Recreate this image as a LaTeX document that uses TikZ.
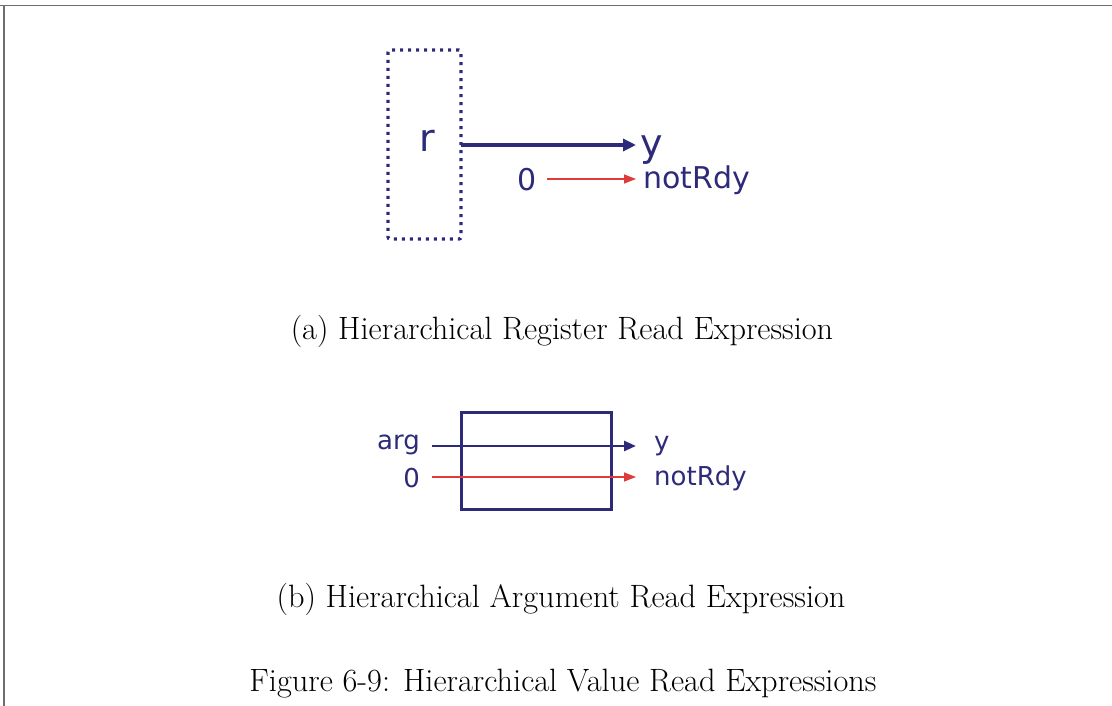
\documentclass[tikz,border=0pt]{standalone}
\usepackage{fontspec}
\newfontfamily\diagfont{DejaVu Sans}
\usetikzlibrary{arrows.meta}
\definecolor{navy}{RGB}{46,42,122}
\definecolor{sigred}{RGB}{222,60,60}
\definecolor{framegray}{RGB}{110,110,110}
\tikzset{
  lbl/.style={font=\diagfont\fontsize{26}{30}\selectfont, text=navy, inner sep=0pt},
  lblbig/.style={font=\diagfont\fontsize{30}{34}\selectfont, text=navy, inner sep=0pt},
  lblhuge/.style={font=\diagfont\fontsize{38}{42}\selectfont, text=navy, inner sep=0pt},
  captext/.style={font=\fontsize{32.3}{38}\selectfont, inner sep=0pt},
  bluearrow/.style={draw=navy, line width=3.6pt, -{Triangle[length=13pt,width=12pt]}},
  bluearrowthin/.style={draw=navy, line width=2.6pt, -{Triangle[length=12pt,width=10pt]}},
  redarrow/.style={draw=sigred, line width=1.5pt, -{Triangle[length=12pt,width=9pt]}},
  dotbox/.style={draw=navy, line width=3.2pt, dash pattern=on 3pt off 5pt},
  solidbox/.style={draw=navy, line width=3pt},
}
\begin{document}
\begin{tikzpicture}[x=1pt,y=-1pt]
\useasboundingbox (0,0) rectangle (1112,706);
% frame
\draw[framegray, line width=1.5pt] (0,5.5) -- (1112,5.5);
\draw[framegray, line width=1.5pt] (4,5.5) -- (4,706);

% (a)
\draw[dotbox, rounded corners=2pt] (388,50) rectangle (461,239);
\node[lblhuge] (r) at (427,141) {r};
\coordinate (rout) at (461,145);
\coordinate (yain) at (636,145);
\node[lblhuge, anchor=west] (ya) at (640,150) {y};
\node[lblbig, anchor=west] (na) at (643,180) {notRdy};
\node[lblbig] (za) at (527,180) {0};
\coordinate (zas) at (547,179);
\coordinate (nain) at (636,179);
\draw[bluearrow] (rout) -- (yain);
\draw[redarrow] (zas) -- (nain);
\node[captext] (capa) at (562,331) {(a) Hierarchical Register Read Expression};

% (b)
\draw[solidbox] (461,412) rectangle (611,509);
\node[lbl, anchor=east] (arg) at (420,445) {arg};
\node[lbl, anchor=east] (zb) at (420,478) {0};
\node[lbl, anchor=west] (yb) at (654,446) {y};
\node[lbl, anchor=west] (nb) at (654,478) {notRdy};
\coordinate (args) at (432,446);
\coordinate (arge) at (636,446);
\coordinate (zbs) at (432,477);
\coordinate (zbe) at (636,477);
\draw[bluearrowthin] (args) -- (arge);
\draw[redarrow] (zbs) -- (zbe);
\node[captext] (capb) at (561,599) {(b) Hierarchical Argument Read Expression};

\node[captext] (fig) at (563,684) {Figure 6-9: Hierarchical Value Read Expressions};
\end{tikzpicture}
\end{document}
